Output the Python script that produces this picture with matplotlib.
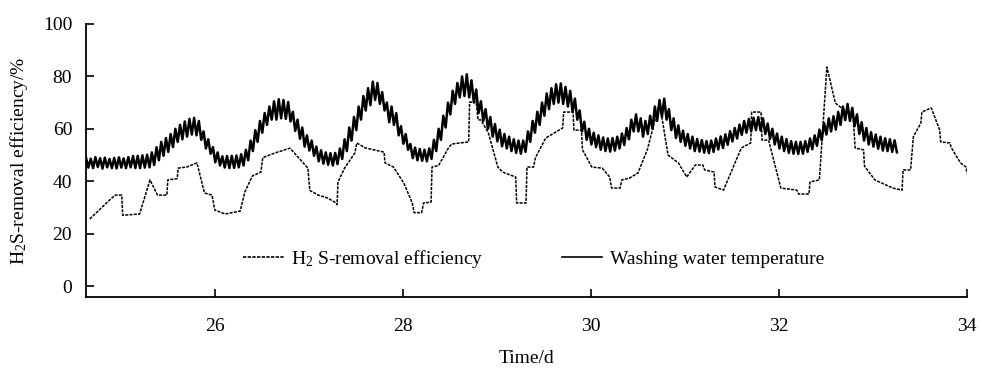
import numpy as np
import matplotlib
matplotlib.use("Agg")
import matplotlib.pyplot as plt

plt.rcParams['font.family'] = ['Liberation Serif', 'DejaVu Serif']
plt.rcParams['mathtext.fontset'] = 'custom'
plt.rcParams['mathtext.rm'] = 'Liberation Serif'
plt.rcParams['mathtext.it'] = 'Liberation Serif:italic'

# H2S-removal efficiency (%), day vs value
eff_day = [24.67, 24.88, 24.94, 25.01, 25.02, 25.20, 25.31, 25.39, 25.49, 25.50,
           25.60, 25.61, 25.70, 25.81, 25.89, 25.97, 26.00, 26.11, 26.27, 26.32,
           26.40, 26.49, 26.51, 26.64, 26.80, 26.99, 27.01, 27.10, 27.20, 27.29,
           27.30, 27.31, 27.38, 27.49, 27.51, 27.60, 27.80, 27.81, 27.90, 28.01,
           28.10, 28.12, 28.20, 28.22, 28.30, 28.31, 28.38, 28.49, 28.52, 28.70,
           28.71, 28.78, 28.80, 28.83, 28.91, 29.01, 29.06, 29.20, 29.21, 29.31,
           29.32, 29.39, 29.41, 29.52, 29.70, 29.71, 29.81, 29.82, 29.90, 29.91,
           30.01, 30.12, 30.20, 30.22, 30.31, 30.33, 30.41, 30.50, 30.60, 30.73,
           30.82, 30.93, 31.02, 31.11, 31.19, 31.21, 31.31, 31.32, 31.41, 31.60,
           31.70, 31.71, 31.81, 31.82, 31.89, 32.02, 32.19, 32.21, 32.32, 32.33,
           32.43, 32.51, 32.60, 32.79, 32.81, 32.90, 32.91, 33.02, 33.21, 33.31,
           33.32, 33.40, 33.43, 33.51, 33.52, 33.62, 33.71, 33.72, 33.82, 33.83,
           33.93, 33.99, 34.00]
eff_val = [25.6, 32.8, 34.7, 34.7, 27.0, 27.5, 40.5, 34.7, 34.7, 40.5,
           41.0, 45.0, 45.4, 47.0, 35.5, 34.7, 29.0, 27.5, 28.6, 36.0,
           42.0, 43.5, 49.0, 50.8, 52.6, 45.0, 36.5, 34.7, 33.6, 31.7,
           31.0, 39.7, 45.0, 50.8, 54.6, 52.7, 51.1, 47.0, 45.4, 39.3,
           31.7, 28.0, 28.0, 31.7, 32.0, 45.4, 46.0, 53.0, 54.2, 55.0,
           70.2, 70.2, 63.4, 63.4, 58.4, 45.4, 43.5, 41.6, 31.7, 31.7,
           45.4, 45.4, 49.0, 56.5, 60.3, 66.4, 66.4, 59.5, 59.5, 52.0,
           45.4, 45.0, 41.6, 37.4, 37.4, 40.5, 41.2, 43.1, 52.0, 70.0,
           50.0, 47.0, 41.6, 46.2, 46.2, 44.3, 43.5, 37.8, 36.6, 52.7,
           54.6, 66.4, 66.4, 55.7, 55.7, 37.4, 36.6, 35.1, 35.1, 39.7,
           40.5, 83.6, 69.8, 64.5, 52.7, 52.0, 45.8, 40.5, 37.4, 36.6,
           44.3, 44.3, 57.0, 62.2, 66.4, 68.0, 59.5, 55.0, 54.6, 53.0,
           47.0, 45.4, 43.0]

# Washing water temperature, sampled every 0.025 d from day 24.63
temp_start = 24.63
temp_step = 0.025
temp_val = [
    49.0, 45.2, 48.6, 45.0, 49.2, 45.4, 48.8, 44.8, 49.0, 45.3, 48.5, 45.0, 48.9, 44.9, 49.1, 45.2, 48.7, 45.0, 49.2, 45.3,
    49.6, 45.0, 49.7, 45.0, 49.9, 45.2, 50.1, 45.3, 51.0, 46.2, 53.0, 48.0, 55.0, 49.7, 56.5, 51.2, 58.0, 53.0, 60.0, 55.0,
    61.5, 56.0, 62.8, 57.0, 63.8, 57.8, 64.2, 57.5, 63.0, 55.8, 59.0, 52.5, 56.0, 50.5, 53.0, 47.2, 51.0, 46.0, 49.5, 45.2,
    49.6, 45.0, 49.7, 45.1, 49.8, 45.3, 50.3, 46.0, 52.0, 48.0, 55.5, 51.5, 59.5, 55.0, 63.0, 58.5, 66.0, 61.5, 68.5, 63.5,
    70.5, 63.5, 71.3, 64.0, 71.0, 63.8, 70.2, 62.8, 66.5, 59.2, 63.5, 56.2, 60.5, 53.2, 57.5, 51.7, 55.5, 49.7, 53.2, 47.6,
    51.8, 46.7, 51.0, 46.3, 50.7, 46.0, 50.8, 46.5, 52.5, 48.5, 56.0, 51.5, 60.5, 55.5, 64.5, 59.5, 68.5, 63.5, 72.5, 67.0,
    75.5, 69.0, 78.0, 71.0, 77.5, 69.5, 74.0, 67.0, 70.0, 62.5, 68.5, 61.5, 66.0, 57.5, 61.0, 54.3, 58.0, 52.0, 54.2, 48.8,
    52.8, 48.0, 52.3, 47.8, 52.0, 47.6, 52.5, 48.5, 55.8, 51.5, 60.0, 55.8, 65.0, 60.5, 70.0, 65.5, 74.5, 69.5, 77.5, 72.0,
    80.0, 72.5, 80.8, 72.0, 78.5, 70.0, 75.0, 66.0, 70.5, 63.0, 67.5, 60.0, 64.5, 57.0, 61.8, 55.2, 59.7, 53.3, 58.0, 52.5,
    57.0, 51.5, 56.0, 50.8, 55.5, 50.5, 55.5, 51.2, 59.0, 55.0, 63.0, 58.5, 66.5, 61.5, 70.0, 65.0, 73.5, 67.5, 75.5, 69.5,
    77.0, 70.0, 77.3, 69.5, 76.0, 68.5, 74.5, 66.5, 71.5, 63.5, 67.0, 59.0, 62.7, 55.8, 60.0, 54.0, 58.5, 53.0, 57.5, 52.0,
    56.7, 51.5, 56.3, 51.3, 56.5, 51.7, 57.0, 52.5, 58.2, 53.8, 60.3, 56.0, 63.5, 59.0, 65.5, 59.0, 64.0, 57.0, 63.0, 58.0,
    65.0, 60.0, 68.5, 63.0, 71.0, 64.5, 71.5, 63.5, 67.5, 59.5, 64.0, 56.5, 61.3, 55.0, 59.3, 53.5, 58.0, 52.5, 57.0, 51.5,
    56.1, 51.3, 55.7, 50.9, 55.3, 50.7, 55.5, 51.2, 56.3, 52.1, 57.1, 52.7, 57.9, 53.9, 59.1, 55.2, 60.3, 56.3, 61.6, 57.7,
    63.0, 58.5, 63.8, 59.0, 64.2, 59.5, 64.5, 59.3, 64.0, 58.0, 62.0, 56.1, 60.0, 54.0, 58.2, 52.5, 57.0, 51.5, 56.1, 50.8,
    55.3, 50.5, 55.0, 50.4, 55.0, 50.5, 55.3, 51.2, 56.3, 52.2, 57.5, 53.5, 59.7, 55.6, 62.2, 57.8, 64.0, 59.0, 64.8, 59.7,
    66.5, 61.5, 68.5, 63.3, 69.5, 63.0, 68.0, 61.0, 65.5, 58.0, 62.5, 55.5, 60.3, 54.0, 58.7, 53.2, 57.8, 52.4, 57.0, 51.7,
    56.4, 51.5, 56.0, 51.2, 55.6, 51.0,
]
temp_day = temp_start + temp_step * np.arange(len(temp_val))

x_ticks = [26, 28, 30, 32, 34]
y_ticks = [0, 20, 40, 60, 80, 100]

fig = plt.figure(figsize=(9.82, 3.69), dpi=100)
ax = fig.add_axes([0.0876, 0.195, 0.8971, 0.740])

ax.plot(eff_day, eff_val, color='black', lw=1.1, linestyle=(0, (2.0, 0.8)),
        label=r'H$_{\mathrm{2}}$ S-removal efficiency')
ax.plot(temp_day, temp_val, color='black', lw=1.8, linestyle='-',
        label='Washing water temperature')

ax.set_xlim(24.63, 34)
ax.set_ylim(-4.2, 100)
ax.set_xticks(x_ticks)
ax.set_yticks(y_ticks)
ax.spines['top'].set_visible(False)
ax.spines['right'].set_visible(False)
ax.spines['left'].set_linewidth(1.3)
ax.spines['bottom'].set_linewidth(1.3)
ax.tick_params(axis='both', direction='in', length=6, width=1.2, labelsize=14)
ax.tick_params(axis='x', pad=15)
ax.tick_params(axis='y', pad=10)

ax.set_xlabel('Time/d', fontsize=14, labelpad=11)
ax.set_ylabel(r'H$_{\mathrm{2}}$S-removal efficiency/%', fontsize=14, labelpad=9)

leg = ax.legend(loc='center left', bbox_to_anchor=(0.178, 0.140), ncol=2,
                frameon=False, fontsize=14, handlelength=2.1, handletextpad=0.4,
                columnspacing=4.0, borderpad=0, borderaxespad=0)
for h in leg.get_lines():
    h.set_linewidth(1.2)

fig.savefig('out.png', dpi=100)
